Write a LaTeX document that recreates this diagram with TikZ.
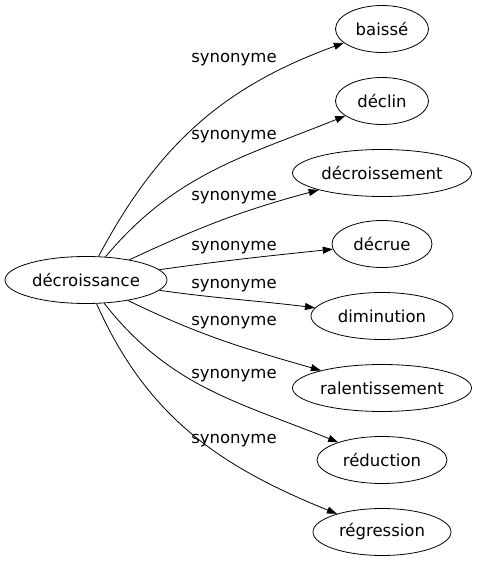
\documentclass[tikz,border=0pt]{standalone}
\usepackage{fontspec}
\setmainfont{DejaVu Sans}
\usetikzlibrary{shapes.geometric,arrows.meta}

\begin{document}
\begin{tikzpicture}[x=1pt,y=1pt,font=\fontsize{16.5}{19}\selectfont,line width=0.8pt]
\tikzset{
  word/.style={draw,ellipse,minimum height=47pt,inner sep=0pt},
  syn/.style={-{Triangle[length=10pt,width=7pt]}},
}
\useasboundingbox (0,0) rectangle (477,563);
    % central term
\node[word,minimum width=162pt] (decroissance) at (86,283) {décroissance};
    % synonyms, one per row
\foreach \n/\t/\y/\w/\o/\i/\ly in {
  baisse/baissé/534/93/62/200/503,
  declin/déclin/462/93/50/202/426,
  decroissement/décroissement/390/179/25/195/365,
  decrue/décrue/319/100/8/186/315,
  diminution/diminution/247/142/-8/173/277,
  ralentissement/ralentissement/175/179/-26/164/240,
  reduction/réduction/103/130/-52/158/187,
  regression/régression/31/138/-66/158/122} {
  \node[word,minimum width=\w pt] (\n) at (382,\y) {\t};
  \node (lab-\n) at (234,\ly) {synonyme};
  \draw[syn] (decroissance) to[out=\o,in=\i] (\n);
}
\end{tikzpicture}
\end{document}
